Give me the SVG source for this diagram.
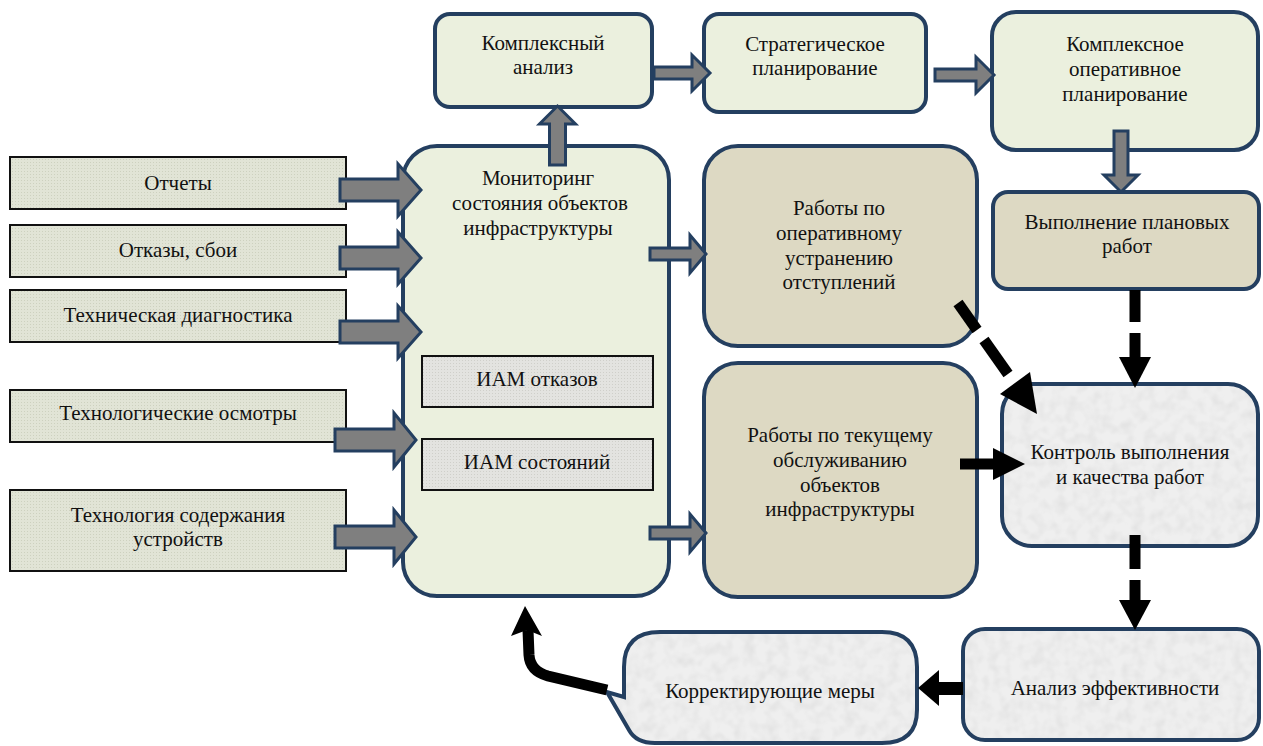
<svg xmlns="http://www.w3.org/2000/svg" width="1263" height="746" viewBox="0 0 1263 746">
<defs>
  <pattern id="dots" width="3" height="3" patternUnits="userSpaceOnUse">
    <rect width="3" height="3" fill="#e1e4d6"/>
    <rect width="1" height="1" fill="#cdd1bf"/>
  </pattern>
  <pattern id="dotsg" width="3" height="3" patternUnits="userSpaceOnUse">
    <rect width="3" height="3" fill="#e3e3e0"/>
    <rect width="1" height="1" fill="#cfcfca"/>
  </pattern>
  <filter id="tex" x="0" y="0" width="100%" height="100%">
    <feTurbulence type="fractalNoise" baseFrequency="0.09" numOctaves="2" seed="4" result="n"/>
    <feColorMatrix in="n" type="matrix" values="0 0 0 0 0.72  0 0 0 0 0.72  0 0 0 0 0.72  1.3 0 0 0 -0.5" result="c"/>
    <feComposite in="c" in2="SourceGraphic" operator="in"/>
  </filter>
  <style>
    text { font-family: "Liberation Serif", "DejaVu Serif", serif; font-size: 21px; fill: #111; text-anchor: middle; }
    .inbox { fill: url(#dots); stroke: #111; stroke-width: 2; }
    .iam { fill: url(#dotsg); stroke: #111; stroke-width: 2; }
    .green { fill: #ebf0de; stroke: #243f60; stroke-width: 4; }
    .tan { fill: #ddd9c3; stroke: #243f60; stroke-width: 4; }
    .grey { fill: #efefef; }
    .greyb { fill: none; stroke: #243f60; stroke-width: 4; }
    .noise { fill: #000; filter: url(#tex); }
    .blk { fill: #7f7f7f; stroke: #243f60; stroke-width: 3; stroke-linejoin: miter; }
    .dash { stroke: #000; stroke-width: 11; fill: none; }
    .head { fill: #000; }
  </style>
</defs>
<rect width="1263" height="746" fill="#ffffff"/>

<g id="n-otchety">
  <rect class="inbox" x="10" y="157" width="336" height="52"/>
  <text x="178" y="190">Отчеты</text>
</g>
<g id="n-otkazy">
  <rect class="inbox" x="10" y="225" width="336" height="52"/>
  <text x="178" y="257">Отказы, сбои</text>
</g>
<g id="n-diag">
  <rect class="inbox" x="10" y="290" width="336" height="52"/>
  <text x="178" y="322">Техническая диагностика</text>
</g>
<g id="n-osmotry">
  <rect class="inbox" x="10" y="390" width="336" height="52"/>
  <text x="178" y="420">Технологические осмотры</text>
</g>
<g id="n-tehnologiya">
  <rect class="inbox" x="10" y="490" width="336" height="81"/>
  <text x="178" y="522">Технология содержания</text>
  <text x="178" y="546">устройств</text>
</g>

<g id="n-monitoring">
  <rect class="green" x="403" y="146" width="266" height="450" rx="34"/>
  <text x="538" y="185">Мониторинг</text>
  <text x="540" y="210">состояния объектов</text>
  <text x="538" y="235">инфраструктуры</text>
</g>
<g id="n-iam1">
  <rect class="iam" x="422" y="356" width="231" height="51"/>
  <text x="537" y="386">ИАМ отказов</text>
</g>
<g id="n-iam2">
  <rect class="iam" x="422" y="439" width="231" height="51"/>
  <text x="537" y="469">ИАМ состояний</text>
</g>

<g id="n-analiz">
  <rect class="green" x="435" y="14" width="217" height="93" rx="15"/>
  <text x="543" y="50">Комплексный</text>
  <text x="543" y="74">анализ</text>
</g>
<g id="n-strateg">
  <rect class="green" x="704" y="14" width="222" height="98" rx="15"/>
  <text x="815" y="51">Стратегическое</text>
  <text x="815" y="75">планирование</text>
</g>
<g id="n-operativ">
  <rect class="green" x="992" y="12" width="266" height="138" rx="24"/>
  <text x="1125" y="51">Комплексное</text>
  <text x="1125" y="76">оперативное</text>
  <text x="1125" y="101">планирование</text>
</g>
<g id="n-vypolnenie">
  <rect class="tan" x="993" y="192" width="266" height="97" rx="15"/>
  <text x="1127" y="229">Выполнение плановых</text>
  <text x="1127" y="253">работ</text>
</g>
<g id="n-raboty1">
  <rect class="tan" x="704" y="146" width="273" height="200" rx="34"/>
  <text x="839" y="215">Работы по</text>
  <text x="839" y="240">оперативному</text>
  <text x="839" y="265">устранению</text>
  <text x="839" y="289">отступлений</text>
</g>
<g id="n-raboty2">
  <rect class="tan" x="704" y="363" width="273" height="234" rx="34"/>
  <text x="840" y="442">Работы по текущему</text>
  <text x="840" y="467">обслуживанию</text>
  <text x="840" y="492">объектов</text>
  <text x="840" y="516">инфраструктуры</text>
</g>
<g id="n-kontrol">
  <rect class="grey" x="1002" y="384" width="256" height="162" rx="30"/>
  <rect class="noise" x="1002" y="384" width="256" height="162" rx="30"/>
  <rect class="greyb" x="1002" y="384" width="256" height="162" rx="30"/>
  <text x="1130" y="459">Контроль выполнения</text>
  <text x="1130" y="484">и качества работ</text>
</g>
<g id="n-effekt">
  <rect class="grey" x="963" y="629" width="296" height="111" rx="22"/>
  <rect class="noise" x="963" y="629" width="296" height="111" rx="22"/>
  <rect class="greyb" x="963" y="629" width="296" height="111" rx="22"/>
  <text x="1115" y="695">Анализ эффективности</text>
</g>
<g id="n-korr">
  <path class="grey" d="M660,632 H882 Q917,632 917,667 V710 Q917,743 882,743 H655 Q636,743 629,730 L607,692 L624,697 V667 Q624,632 660,632 Z"/>
  <path class="noise" d="M660,632 H882 Q917,632 917,667 V710 Q917,743 882,743 H655 Q636,743 629,730 L607,692 L624,697 V667 Q624,632 660,632 Z"/>
  <path class="greyb" d="M660,632 H882 Q917,632 917,667 V710 Q917,743 882,743 H655 Q636,743 629,730 L607,692 L624,697 V667 Q624,632 660,632 Z"/>
  <text x="770" y="698">Корректирующие меры</text>
</g>

<g id="connectors">
  <path class="blk" d="M340,179 H398 V164 L421,190 L398,216 V201 H340 Z"/>
  <path class="blk" d="M340,247 H398 V232 L421,258 L398,284 V269 H340 Z"/>
  <path class="blk" d="M340,321 H398 V306 L421,332 L398,358 V343 H340 Z"/>
  <path class="blk" d="M335,429 H394 V413 L416,440 L394,467 V451 H335 Z"/>
  <path class="blk" d="M335,526 H394 V510 L416,537 L394,564 V548 H335 Z"/>
  <path class="blk" d="M650,248 H690 V235 L706,254 L690,273 V260 H650 Z"/>
  <path class="blk" d="M650,527 H690 V514 L706,533 L690,552 V539 H650 Z"/>
  <path class="blk" d="M549.5,165 V124 H539.5 L557.5,106 L575.5,124 H565.5 V165 Z"/>
  <path class="blk" d="M654,67 H692 V55 L710,73 L692,91 V79 H654 Z"/>
  <path class="blk" d="M935,69 H976 V57 L994,75 L976,93 V81 H935 Z"/>
  <path class="blk" d="M1114,131 V175 H1104 L1121,192 L1138,175 H1128 V131 Z"/>

  <line class="dash" x1="1135" y1="290" x2="1135" y2="322"/>
  <line class="dash" x1="1135" y1="333" x2="1135" y2="360"/>
  <polygon class="head" points="1119,357 1151,357 1135,388"/>
  <line class="dash" x1="958" y1="303" x2="977" y2="330"/>
  <line class="dash" x1="984" y1="340" x2="1008" y2="374"/>
  <polygon class="head" points="1000,394 1030,372 1037,414"/>
  <line class="dash" x1="960" y1="464" x2="995" y2="464"/>
  <polygon class="head" points="993,448 993,480 1025,464"/>
  <line class="dash" x1="1135" y1="535" x2="1135" y2="569"/>
  <line class="dash" x1="1135" y1="580" x2="1135" y2="603"/>
  <polygon class="head" points="1119,600 1151,600 1135,630"/>
  <rect class="head" x="937" y="682" width="26" height="13"/>
  <polygon class="head" points="939,670 918,688 939,706"/>
  <path d="M607,690 L548,676 Q530,671 529,655 L528,630" stroke="#000" stroke-width="11" fill="none"/>
  <polygon class="head" points="525,606 542,636 527,630 511,636"/>
</g>
</svg>
